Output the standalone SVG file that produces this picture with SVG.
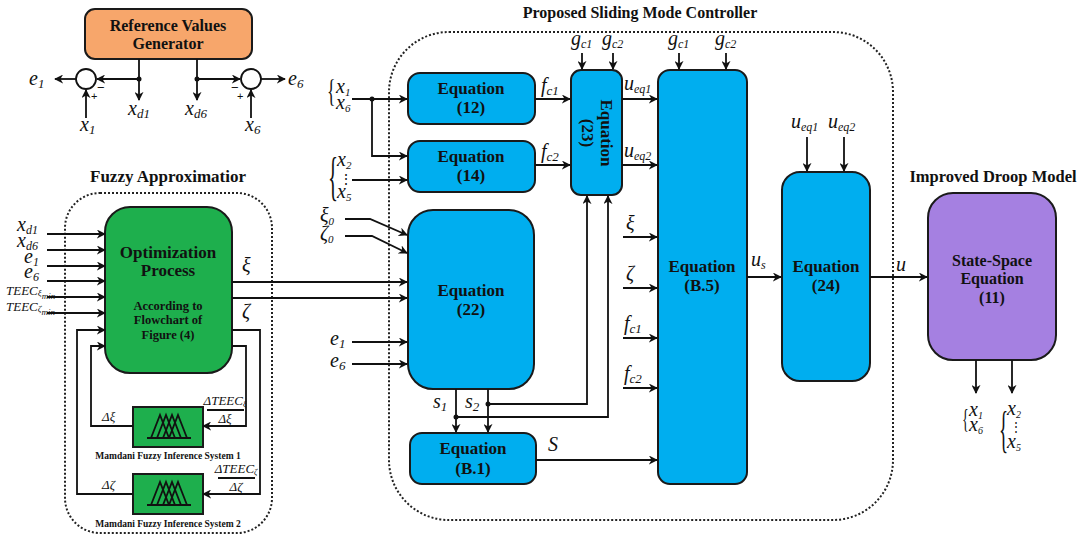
<svg xmlns="http://www.w3.org/2000/svg" width="1086" height="538" viewBox="0 0 1086 538">
<style>
.t{font-family:"Liberation Serif","Times New Roman",serif;font-weight:bold;fill:#111;text-anchor:middle}
.m{font-family:"Liberation Serif","Times New Roman",serif;font-style:italic;font-size:20px;fill:#111}
.sm{font-family:"Liberation Serif","Times New Roman",serif;font-style:italic;font-size:13px;fill:#111}
.br{font-family:"Liberation Serif","Times New Roman",serif;fill:#111}
.blue{fill:#00AEEF;stroke:#1a1a1a;stroke-width:2}
.green{fill:#1EAF4D;stroke:#1a1a1a;stroke-width:2}
.ln{fill:none;stroke:#111;stroke-width:1.8}
.ar{fill:none;stroke:#111;stroke-width:1.8;marker-end:url(#ah)}
.dot{fill:none;stroke:#222;stroke-width:2;stroke-dasharray:2 2}
</style>
<defs>
<marker id="ah" viewBox="0 0 10 10" refX="9" refY="5" markerWidth="9" markerHeight="9" markerUnits="userSpaceOnUse" orient="auto">
<path d="M0,0 L10,5 L0,10 L3,5 z" fill="#111"/>
</marker>
</defs>

<!-- group outlines -->
<rect x="65" y="193" width="207" height="340" rx="35" class="dot"/>
<rect x="389" y="32" width="504" height="488" rx="60" class="dot"/>

<!-- titles -->
<text x="168" y="182" class="t" font-size="17">Fuzzy Approximatior</text>
<text x="640" y="18" class="t" font-size="16">Proposed Sliding Mode Controller</text>
<text x="993" y="182" class="t" font-size="16.5">Improved Droop Model</text>

<!-- nodes -->
<g id="ref-gen">
<rect x="85" y="9" width="167" height="50" rx="10" fill="#F7A66B" stroke="#1a1a1a" stroke-width="2"/>
<text x="168" y="31" class="t" font-size="16">Reference Values</text>
<text x="168" y="49" class="t" font-size="16">Generator</text>
</g>
<g id="sum1"><circle cx="86" cy="79" r="10" fill="#fff" stroke="#111" stroke-width="1.8"/></g>
<g id="sum6"><circle cx="251" cy="79" r="10" fill="#fff" stroke="#111" stroke-width="1.8"/></g>

<g id="optimization">
<rect x="105" y="207" width="127" height="166" rx="25" class="green"/>
<text x="168" y="258" class="t" font-size="17">Optimization</text>
<text x="168" y="276" class="t" font-size="17">Process</text>
<text x="168" y="310" class="t" font-size="12.5">According to</text>
<text x="168" y="324" class="t" font-size="12.5">Flowchart of</text>
<text x="168" y="339" class="t" font-size="12.5">Figure (4)</text>
</g>
<g id="fis1">
<rect x="133" y="407" width="70" height="40" class="green"/>
<path d="M147,438 H191 M151,438 L160,415 L169,438 M157,438 L166,415 L175,438 M163,438 L172,415 L181,438 M169,438 L178,415 L187,438" class="ln" stroke-width="1.4"/>
<text x="168" y="459" class="t" font-size="9.5">Mamdani Fuzzy Inference System 1</text>
</g>
<g id="fis2">
<rect x="133" y="474" width="70" height="40" class="green"/>
<path d="M147,505 H191 M151,505 L160,482 L169,505 M157,505 L166,482 L175,505 M163,505 L172,482 L181,505 M169,505 L178,482 L187,505" class="ln" stroke-width="1.4"/>
<text x="168" y="527" class="t" font-size="9.5">Mamdani Fuzzy Inference System 2</text>
</g>

<g id="eq12">
<rect x="408" y="73" width="127" height="51" rx="12" class="blue"/>
<text x="471" y="94" class="t" font-size="17">Equation</text>
<text x="471" y="113" class="t" font-size="17">(12)</text>
</g>
<g id="eq14">
<rect x="408" y="141" width="127" height="51" rx="12" class="blue"/>
<text x="471" y="162" class="t" font-size="17">Equation</text>
<text x="471" y="181" class="t" font-size="17">(14)</text>
</g>
<g id="eq22">
<rect x="408" y="210" width="126" height="179" rx="25" class="blue"/>
<text x="471" y="296" class="t" font-size="17">Equation</text>
<text x="471" y="315" class="t" font-size="17">(22)</text>
</g>
<g id="eqB1">
<rect x="410" y="433" width="126" height="51" rx="12" class="blue"/>
<text x="473" y="454" class="t" font-size="17">Equation</text>
<text x="473" y="474" class="t" font-size="17">(B.1)</text>
</g>
<g id="eq23">
<rect x="571" y="70" width="51" height="125" rx="10" class="blue"/>
<text transform="translate(597,133) rotate(90)" class="t" font-size="17"><tspan x="0" y="-4">Equation</tspan><tspan x="0" y="15">(23)</tspan></text>
</g>
<g id="eqB5">
<rect x="658" y="70" width="89" height="414" rx="12" class="blue"/>
<text x="702" y="272" class="t" font-size="17">Equation</text>
<text x="702" y="291" class="t" font-size="17">(B.5)</text>
</g>
<g id="eq24">
<rect x="782" y="172" width="88" height="209" rx="18" class="blue"/>
<text x="826" y="272" class="t" font-size="17">Equation</text>
<text x="826" y="291" class="t" font-size="17">(24)</text>
</g>
<g id="state-space">
<rect x="928" y="193" width="128" height="167" rx="25" fill="#A580E1" stroke="#1a1a1a" stroke-width="2"/>
<text x="992" y="266" class="t" font-size="16">State-Space</text>
<text x="992" y="284" class="t" font-size="16">Equation</text>
<text x="992" y="303" class="t" font-size="16">(11)</text>
</g>

<!-- connectors -->
<g id="connectors">
<path d="M139,59 V100" class="ar"/>
<path d="M139,79 H97" class="ar"/>
<path d="M76,79 H55" class="ar"/>
<path d="M86,118 V90" class="ar"/>
<circle cx="139" cy="79" r="2.5" fill="#111"/>
<path d="M197,59 V100" class="ar"/>
<path d="M197,79 H240" class="ar"/>
<path d="M261,79 H285" class="ar"/>
<path d="M251,118 V90" class="ar"/>
<circle cx="197" cy="79" r="2.5" fill="#111"/>

<path d="M47,234 H105" class="ar"/>
<path d="M47,250 H105" class="ar"/>
<path d="M47,266 H105" class="ar"/>
<path d="M47,281 H105" class="ar"/>
<path d="M47,297 H105" class="ar"/>
<path d="M47,313 H105" class="ar"/>
<path d="M232,330 H260 V494 H203" class="ar"/>
<path d="M232,346 H246 V426 H203" class="ar"/>
<path d="M133,426 H91 V346 H105" class="ar"/>
<path d="M133,494 H77 V330 H105" class="ar"/>

<path d="M232,282 H407" class="ar"/>
<path d="M232,298 H407" class="ar"/>

<path d="M352,99 H407" class="ar"/>
<path d="M372,99 V156 H407" class="ar"/>
<circle cx="372" cy="99" r="2.5" fill="#111"/>
<path d="M352,180 H407" class="ar"/>
<path d="M345,219 H370 L407,235" class="ar"/>
<path d="M345,236 H372 L407,253" class="ar"/>
<path d="M352,342 H407" class="ar"/>
<path d="M352,364 H407" class="ar"/>

<path d="M535,99 H570" class="ar"/>
<path d="M535,165 H570" class="ar"/>
<path d="M582,53 V69" class="ar"/>
<path d="M613,53 V69" class="ar"/>
<path d="M622,99 H657" class="ar"/>
<path d="M622,165 H657" class="ar"/>
<path d="M679,53 V69" class="ar"/>
<path d="M726,53 V69" class="ar"/>

<path d="M456,389 V432" class="ar"/>
<path d="M488,389 V432" class="ar"/>
<path d="M488,404 H587 V196" class="ar"/>
<path d="M456,417 H608 V196" class="ar"/>
<circle cx="488" cy="404" r="2.5" fill="#111"/>
<circle cx="456" cy="417" r="2.5" fill="#111"/>

<path d="M623,237 H657" class="ar"/>
<path d="M623,288 H657" class="ar"/>
<path d="M623,338 H657" class="ar"/>
<path d="M623,388 H657" class="ar"/>
<path d="M536,460 H657" class="ar"/>

<path d="M747,277 H781" class="ar"/>
<path d="M807,137 V171" class="ar"/>
<path d="M844,137 V171" class="ar"/>
<path d="M870,277 H927" class="ar"/>
<path d="M976,360 V393" class="ar"/>
<path d="M1012,360 V393" class="ar"/>
</g>

<!-- labels -->
<g id="labels">
<text x="29" y="85" class="m">e<tspan font-size="13" dy="3">1</tspan></text>
<text x="80" y="131" class="m">x<tspan font-size="13" dy="3">1</tspan></text>
<text x="128" y="115" class="m">x<tspan font-size="13" dy="3">d1</tspan></text>
<text x="185" y="115" class="m">x<tspan font-size="13" dy="3">d6</tspan></text>
<text x="245" y="131" class="m">x<tspan font-size="13" dy="3">6</tspan></text>
<text x="288" y="85" class="m">e<tspan font-size="13" dy="3">6</tspan></text>
<text x="97" y="92" font-family="Liberation Sans,sans-serif" font-size="13" fill="#111">−</text>
<text x="91" y="100" font-family="Liberation Sans,sans-serif" font-size="11" fill="#111">+</text>
<text x="231" y="92" font-family="Liberation Sans,sans-serif" font-size="13" fill="#111">−</text>
<text x="237" y="100" font-family="Liberation Sans,sans-serif" font-size="11" fill="#111">+</text>

<text x="17" y="231" class="m" font-size="18">x<tspan font-size="12" dy="3">d1</tspan></text>
<text x="17" y="247" class="m" font-size="18">x<tspan font-size="12" dy="3">d6</tspan></text>
<text x="24" y="263" class="m" font-size="18">e<tspan font-size="12" dy="3">1</tspan></text>
<text x="24" y="278" class="m" font-size="18">e<tspan font-size="12" dy="3">6</tspan></text>
<text x="6" y="295" class="sm" font-size="12">TEEC<tspan font-size="9" dy="1">ξ</tspan><tspan font-size="9" dy="3">min</tspan></text>
<text x="6" y="311" class="sm" font-size="12">TEEC<tspan font-size="9" dy="1">ζ</tspan><tspan font-size="9" dy="3">min</tspan></text>

<text x="102" y="421" class="sm" font-size="16">Δξ</text>
<text x="102" y="489" class="sm" font-size="16">Δζ</text>
<text x="225" y="405" class="sm" font-size="12.5" text-anchor="middle">ΔTEEC<tspan font-size="8" dy="2">ξ</tspan></text>
<path d="M207,410 H244" class="ln" stroke-width="1.2"/>
<text x="225" y="423" class="sm" font-size="12.5" text-anchor="middle">Δξ</text>
<text x="236" y="473" class="sm" font-size="12.5" text-anchor="middle">ΔTEEC<tspan font-size="8" dy="2">ζ</tspan></text>
<path d="M218,478 H255" class="ln" stroke-width="1.2"/>
<text x="236" y="491" class="sm" font-size="12.5" text-anchor="middle">Δζ</text>

<text x="242" y="272" class="m">ξ</text>
<text x="242" y="318" class="m">ζ</text>

<text class="br" font-size="32" transform="translate(327,102) scale(0.55,1)">{</text>
<text x="336" y="93" class="m" font-size="17">x<tspan font-size="11" dy="3">1</tspan></text>
<text x="336" y="109" class="m" font-size="17">x<tspan font-size="11" dy="3">6</tspan></text>
<text class="br" font-size="52" transform="translate(328,194) scale(0.4,1)">{</text>
<text x="337" y="166" class="m" font-size="17">x<tspan font-size="11" dy="3">2</tspan></text>
<text x="339" y="184" class="br" font-size="14">⋮</text>
<text x="337" y="198" class="m" font-size="17">x<tspan font-size="11" dy="3">5</tspan></text>

<text x="320" y="222" class="m" font-size="16">ξ<tspan font-size="11" dy="3">0</tspan></text>
<text x="320" y="240" class="m" font-size="16">ζ<tspan font-size="11" dy="3">0</tspan></text>
<text x="330" y="345" class="m">e<tspan font-size="13" dy="3">1</tspan></text>
<text x="330" y="367" class="m">e<tspan font-size="13" dy="3">6</tspan></text>

<text x="541" y="92" class="m">f<tspan font-size="13" dy="3">c1</tspan></text>
<text x="541" y="158" class="m">f<tspan font-size="13" dy="3">c2</tspan></text>
<text x="571" y="45" class="m" font-size="18">g<tspan font-size="12" dy="3">c1</tspan></text>
<text x="602" y="45" class="m" font-size="18">g<tspan font-size="12" dy="3">c2</tspan></text>
<text x="624" y="90" class="m" font-size="18">u<tspan font-size="12" dy="3">eq1</tspan></text>
<text x="624" y="157" class="m" font-size="18">u<tspan font-size="12" dy="3">eq2</tspan></text>
<text x="668" y="45" class="m" font-size="18">g<tspan font-size="12" dy="3">c1</tspan></text>
<text x="715" y="45" class="m" font-size="18">g<tspan font-size="12" dy="3">c2</tspan></text>

<text x="626" y="230" class="m">ξ</text>
<text x="626" y="280" class="m">ζ</text>
<text x="624" y="330" class="m">f<tspan font-size="13" dy="3">c1</tspan></text>
<text x="624" y="380" class="m">f<tspan font-size="13" dy="3">c2</tspan></text>

<text x="433" y="408" class="m">s<tspan font-size="13" dy="3">1</tspan></text>
<text x="465" y="408" class="m">s<tspan font-size="13" dy="3">2</tspan></text>
<text x="548" y="451" class="m" font-size="21">S</text>

<text x="751" y="266" class="m" font-size="18">u<tspan font-size="12" dy="3">s</tspan></text>
<text x="791" y="128" class="m" font-size="18">u<tspan font-size="12" dy="3">eq1</tspan></text>
<text x="828" y="128" class="m" font-size="18">u<tspan font-size="12" dy="3">eq2</tspan></text>
<text x="896" y="271" class="m">u</text>

<text class="br" font-size="28" transform="translate(962,428) scale(0.5,1)">{</text>
<text x="969" y="416" class="m" font-size="15">x<tspan font-size="10" dy="3">1</tspan></text>
<text x="969" y="431" class="m" font-size="15">x<tspan font-size="10" dy="3">6</tspan></text>
<text class="br" font-size="50" transform="translate(999,446) scale(0.38,1)">{</text>
<text x="1007" y="415" class="m" font-size="15">x<tspan font-size="10" dy="3">2</tspan></text>
<text x="1010" y="431" class="br" font-size="12">⋮</text>
<text x="1007" y="448" class="m" font-size="15">x<tspan font-size="10" dy="3">5</tspan></text>
</g>
</svg>
